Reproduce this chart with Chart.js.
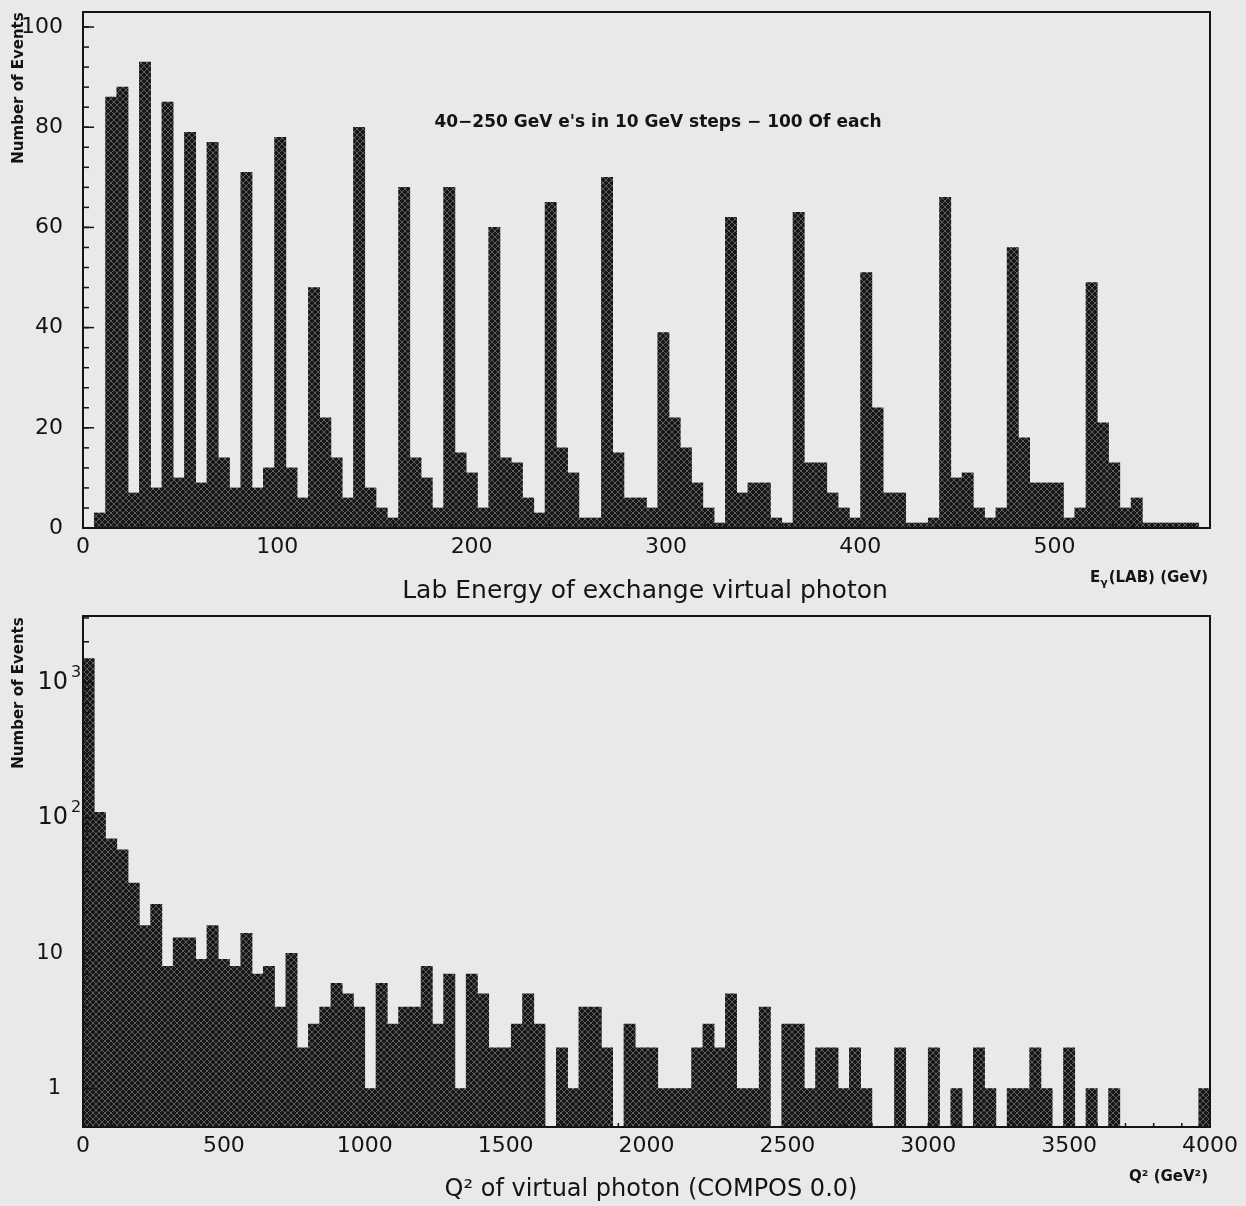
<!DOCTYPE html>
<html>
<head>
<meta charset="utf-8">
<script src="https://cdn.jsdelivr.net/npm/chart.js@4.4.1/dist/chart.umd.min.js"></script>
<style>
  html, body { margin: 0; padding: 0; background: #e9e9e9; }
  #wrap { position: relative; width: 1246px; height: 1206px; }
  canvas { position: absolute; left: 0; }
  #energyChart { top: 0; }
  #q2Chart { top: 606px; }
</style>
</head>
<body>
<div id="wrap">
  <canvas id="energyChart" width="1246" height="606"></canvas>
  <canvas id="q2Chart" width="1246" height="600"></canvas>
</div>
<script>
// histogram binning (100 bins each)
const energyBinWidth = 5.8;   // GeV, 0..580
const q2BinWidth = 40;        // GeV^2, 0..4000

// top: lab energy of exchanged virtual photon
const energyCounts = [
  0, 3, 86, 88, 7, 93, 8, 85, 10, 79,
  9, 77, 14, 8, 71, 8, 12, 78, 12, 6,
  48, 22, 14, 6, 80, 8, 4, 2, 68, 14,
  10, 4, 68, 15, 11, 4, 60, 14, 13, 6,
  3, 65, 16, 11, 2, 2, 70, 15, 6, 6,
  4, 39, 22, 16, 9, 4, 1, 62, 7, 9,
  9, 2, 1, 63, 13, 13, 7, 4, 2, 51,
  24, 7, 7, 1, 1, 2, 66, 10, 11, 4,
  2, 4, 56, 18, 9, 9, 9, 2, 4, 49,
  21, 13, 4, 6, 1, 1, 1, 1, 1, 0
];

// bottom: Q^2 of virtual photon (log scale)
const q2Counts = [
  1500, 110, 70, 58, 33, 16, 23, 8, 13, 13,
  9, 16, 9, 8, 14, 7, 8, 4, 10, 2,
  3, 4, 6, 5, 4, 1, 6, 3, 4, 4,
  8, 3, 7, 1, 7, 5, 2, 2, 3, 5,
  3, 0, 2, 1, 4, 4, 2, 0, 3, 2,
  2, 1, 1, 1, 2, 3, 2, 5, 1, 1,
  4, 0, 3, 3, 1, 2, 2, 1, 2, 1,
  0, 0, 2, 0, 0, 2, 0, 1, 0, 2,
  1, 0, 1, 1, 2, 1, 0, 2, 0, 1,
  0, 1, 0, 0, 0, 0, 0, 0, 0, 1
];

const energyXTicks = [0, 100, 200, 300, 400, 500];
const energyYTicks = [0, 20, 40, 60, 80, 100];
const q2XTicks = [0, 500, 1000, 1500, 2000, 2500, 3000, 3500, 4000];
const q2YTicks = [1, 10, 100, 1000];

const FONT = "'DejaVu Sans', sans-serif";
const INK = '#141414';

// dark cross-hatch fill like the old plotter output
function hatch() {
  const c = document.createElement('canvas');
  c.width = 6; c.height = 6;
  const g = c.getContext('2d');
  g.fillStyle = '#171717';
  g.fillRect(0, 0, 6, 6);
  g.fillStyle = '#5c5c5c';
  for (let i = 0; i < 6; i++) {
    g.fillRect(i, i, 1, 1);
    g.fillRect(i, 5 - i, 1, 1);
  }
  return g.createPattern(c, 'repeat');
}

function toPoints(counts, width, dropZero) {
  return counts.map((v, i) => ({ x: (i + 0.5) * width, y: (dropZero && v === 0) ? null : v }));
}

function line(ctx, x1, y1, x2, y2) {
  ctx.beginPath(); ctx.moveTo(x1, y1); ctx.lineTo(x2, y2); ctx.stroke();
}

// frame + inward tick marks
function framePlugin(cfg) {
  return {
    id: 'frame',
    afterDatasetsDraw(chart) {
      const { ctx, chartArea: a, scales: { x, y } } = chart;
      ctx.save();
      ctx.strokeStyle = INK;
      ctx.lineWidth = 1.5;
      cfg.yMinor.forEach(v => { const p = y.getPixelForValue(v); line(ctx, a.left, p, a.left + 6, p); });
      cfg.yMajor.forEach(v => { const p = y.getPixelForValue(v); line(ctx, a.left, p, a.left + 11, p); });
      cfg.xMinor.forEach(v => { const p = x.getPixelForValue(v); line(ctx, p, a.bottom, p, a.bottom - 4); });
      ctx.lineWidth = 2;
      ctx.strokeRect(a.left, a.top, a.right - a.left, a.bottom - a.top);
      ctx.restore();
    }
  };
}

// y tick labels (drawn here so they don't push the chart area around)
function yLabelPlugin(ticks, log) {
  return {
    id: 'yLabels',
    afterDraw(chart) {
      const { ctx, scales: { y } } = chart;
      ctx.save();
      ctx.fillStyle = INK;
      ctx.textBaseline = 'middle';
      ticks.forEach(v => {
        const p = y.getPixelForValue(v);
        const exp = Math.round(Math.log10(v));
        if (log && exp >= 2) {
          ctx.font = `24px ${FONT}`;
          ctx.textAlign = 'right';
          ctx.fillText('10', 68, p);
          ctx.font = `16px ${FONT}`;
          ctx.textAlign = 'left';
          ctx.fillText(String(exp), 71, p - 10);
        } else if (log) {
          ctx.font = `21px ${FONT}`;
          ctx.textAlign = 'right';
          ctx.fillText(String(v), exp === 0 ? 61 : 63, p);
        } else {
          ctx.font = `22px ${FONT}`;
          ctx.textAlign = 'right';
          ctx.fillText(String(v), 63, p);
        }
      });
      ctx.restore();
    }
  };
}

// axis titles and notes
function textPlugin(items) {
  return {
    id: 'texts',
    afterDraw(chart) {
      const ctx = chart.ctx;
      ctx.save();
      ctx.fillStyle = INK;
      items.forEach(t => {
        ctx.save();
        ctx.font = t.font;
        ctx.textAlign = t.align || 'center';
        ctx.textBaseline = 'middle';
        ctx.translate(t.x, t.y);
        if (t.rotate) ctx.rotate(t.rotate);
        if (t.draw) t.draw(ctx); else ctx.fillText(t.text, 0, 0);
        ctx.restore();
      });
      ctx.restore();
    }
  };
}

function range(from, to, step) {
  const out = [];
  for (let v = from; v <= to + 1e-9; v += step) out.push(v);
  return out;
}

// ---------- top chart ----------
new Chart(document.getElementById('energyChart'), {
  type: 'bar',
  data: {
    datasets: [{
      data: toPoints(energyCounts, energyBinWidth, false),
      backgroundColor: hatch(),
      borderWidth: 0,
      categoryPercentage: 1,
      barPercentage: 1
    }]
  },
  options: {
    responsive: false,
    animation: false,
    events: [],
    layout: { autoPadding: false, padding: { top: 12, right: 36, bottom: 0, left: 0 } },
    plugins: { legend: { display: false }, tooltip: { enabled: false } },
    scales: {
      x: {
        type: 'linear', min: 0, max: 580, offset: false,
        grid: { display: false, drawTicks: false }, border: { display: false },
        afterBuildTicks: s => { s.ticks = energyXTicks.map(v => ({ value: v })); },
        afterFit: s => { s.height = 78; },
        ticks: { color: INK, font: { family: FONT, size: 22 }, padding: 6, maxRotation: 0, autoSkip: false,
                 callback: v => String(v) }
      },
      y: {
        min: 0, max: 103,
        grid: { display: false, drawTicks: false }, border: { display: false },
        afterBuildTicks: s => { s.ticks = energyYTicks.map(v => ({ value: v })); },
        afterFit: s => { s.width = 83; },
        ticks: { display: false }
      }
    }
  },
  plugins: [
    framePlugin({ yMajor: energyYTicks, yMinor: range(0, 100, 4), xMinor: range(0, 580, 10) }),
    yLabelPlugin(energyYTicks, false),
    textPlugin([
      { text: 'Number of Events', x: 19, y: 88, rotate: -Math.PI / 2, font: `bold 15px ${FONT}` },
      { text: "40\u2212250 GeV e's in 10 GeV steps \u2212 100 Of each", x: 658, y: 123, font: `bold 17px ${FONT}` },
      { text: 'Lab Energy of exchange virtual photon', x: 645, y: 591, font: `25px ${FONT}` },
      { x: 1208, y: 578, font: `bold 15px ${FONT}`, draw: ctx => {
          ctx.textAlign = 'left';
          const rest = '(LAB) (GeV)';
          const wRest = ctx.measureText(rest).width;
          const wE = ctx.measureText('E').width;
          ctx.font = `bold 11px ${FONT}`;
          const wG = ctx.measureText('\u03b3').width;
          const x0 = -(wRest + wE + wG + 1);
          ctx.font = `bold 15px ${FONT}`;
          ctx.fillText('E', x0, 0);
          ctx.font = `bold 11px ${FONT}`;
          ctx.fillText('\u03b3', x0 + wE, 5);
          ctx.font = `bold 15px ${FONT}`;
          ctx.fillText(rest, x0 + wE + wG + 1, 0);
      } }
    ])
  ]
});

// ---------- bottom chart ----------
const q2Minor = [];
[1, 10, 100, 1000].forEach(d => { for (let m = 1; m <= 9; m++) if (d * m <= 3100) q2Minor.push(d * m); });

new Chart(document.getElementById('q2Chart'), {
  type: 'bar',
  data: {
    datasets: [{
      data: toPoints(q2Counts, q2BinWidth, true),
      backgroundColor: hatch(),
      borderWidth: 0,
      categoryPercentage: 1,
      barPercentage: 1
    }]
  },
  options: {
    responsive: false,
    animation: false,
    events: [],
    layout: { autoPadding: false, padding: { top: 10, right: 36, bottom: 0, left: 0 } },
    plugins: { legend: { display: false }, tooltip: { enabled: false } },
    scales: {
      x: {
        type: 'linear', min: 0, max: 4000, offset: false,
        grid: { display: false, drawTicks: false }, border: { display: false },
        afterBuildTicks: s => { s.ticks = q2XTicks.map(v => ({ value: v })); },
        afterFit: s => { s.height = 79; },
        ticks: { color: INK, font: { family: FONT, size: 22 }, padding: 6, maxRotation: 0, autoSkip: false,
                 callback: v => String(v) }
      },
      y: {
        type: 'logarithmic', min: 0.52, max: 3100,
        grid: { display: false, drawTicks: false }, border: { display: false },
        afterBuildTicks: s => { s.ticks = q2YTicks.map(v => ({ value: v })); },
        afterFit: s => { s.width = 83; },
        ticks: { display: false }
      }
    }
  },
  plugins: [
    framePlugin({ yMajor: q2YTicks, yMinor: q2Minor, xMinor: range(0, 4000, 100) }),
    yLabelPlugin(q2YTicks, true),
    textPlugin([
      { text: 'Number of Events', x: 19, y: 87, rotate: -Math.PI / 2, font: `bold 15px ${FONT}` },
      { text: 'Q\u00b2 of virtual photon (COMPOS 0.0)', x: 651, y: 584, font: `24px ${FONT}` },
      { text: 'Q\u00b2 (GeV\u00b2)', x: 1208, y: 571, align: 'right', font: `bold 15px ${FONT}` }
    ])
  ]
});
</script>
</body>
</html>
